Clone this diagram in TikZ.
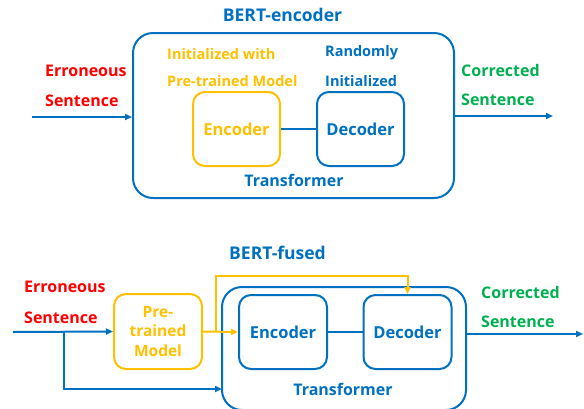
\documentclass[tikz,border=0pt]{standalone}
\usepackage{fontspec}
\setmainfont{Open Sans}
\usetikzlibrary{arrows.meta}
\definecolor{mblue}{HTML}{0070C0}
\definecolor{myellow}{HTML}{FFC000}
\definecolor{mred}{HTML}{FF0000}
\definecolor{mgreen}{HTML}{00B050}
\tikzset{
  lbl/.style={inner sep=0pt, font=\fontsize{16}{18}\selectfont\bfseries},
  note/.style={inner sep=0pt, font=\fontsize{14.5}{16}\selectfont\bfseries},
  ttl/.style={inner sep=0pt, text=mblue, font=\fontsize{17.5}{20}\selectfont\bfseries},
  outerbox/.style={draw=mblue, line width=2pt, rounded corners=20pt, inner sep=0pt},
  innerbox/.style={line width=2pt, rounded corners=12pt, inner sep=0pt, minimum width=87pt, minimum height=74pt,
    font=\fontsize{16.5}{18}\selectfont\bfseries},
  arr/.style={line width=2pt, -{Triangle[length=7pt,width=6pt]}},
  ln/.style={line width=2pt},
}
\begin{document}
\begin{tikzpicture}[x=1pt,y=-1pt]
\useasboundingbox (0,0) rectangle (584,408);
\clip (0,0) rectangle (584,408);
% ---------- top: BERT-encoder ----------
\node[ttl] (t1) at (282.5,15) {BERT-encoder};
\node[outerbox, minimum width=321pt, minimum height=165pt] (outA) at (293.5,115.5) {};
\node[note, text=myellow, anchor=west] (initw) at (167,54) {Initialized with};
\node[note, text=myellow, anchor=west] (ptm) at (167,81) {Pre-trained Model};
\node[note, text=mblue, anchor=west] (rand) at (325,53) {Randomly};
\node[note, text=mblue, anchor=west] (rinit) at (325,81) {Initialized};
\node[lbl, text=mred, anchor=west] (errA) at (45,71) {Erroneous};
\node[lbl, text=mred, anchor=west] (senA) at (45,101) {Sentence};
\node[lbl, text=mgreen, anchor=west] (corA) at (461,70) {Corrected};
\node[lbl, text=mgreen, anchor=west] (csenA) at (461,100) {Sentence};
\node[lbl, text=mblue] (trA) at (294,180) {Transformer};
\node[innerbox, draw=myellow, text=myellow] (encA) at (236.5,129) {Encoder};
\node[innerbox, draw=mblue, text=mblue] (decA) at (360.5,129) {Decoder};
\coordinate (inA) at (32,117);
\coordinate (outAend) at (553,116);
\draw[arr, mblue] (inA) -- (inA -| outA.west);
\draw[arr, mblue] (outAend -| outA.east) -- (outAend);
\draw[ln, mblue] (encA.east) -- (decA.west);
% ---------- bottom: BERT-fused ----------
\node[ttl] (t2) at (277.5,253) {BERT-fused};
\node[outerbox, minimum width=244pt, minimum height=123pt] (outB) at (344,348.5) {};
\node[lbl, text=mred, anchor=west] (errB) at (24,287) {Erroneous};
\node[lbl, text=mred, anchor=west] (senB) at (24,318) {Sentence};
\node[lbl, text=mgreen, anchor=west] (corB) at (481,292) {Corrected};
\node[lbl, text=mgreen, anchor=west] (csenB) at (481,322) {Sentence};
\node[lbl, text=mblue] (trB) at (343,389) {Transformer};
\node[innerbox, draw=myellow, text=myellow, minimum width=88pt, minimum height=75pt, align=center,
      font=\fontsize{15.5}{19.5}\selectfont\bfseries] (ptB) at (158,331.5) {Pre-\\trained\\Model};
\node[innerbox, draw=mblue, text=mblue, minimum width=88pt] (encB) at (283,332) {Encoder};
\node[innerbox, draw=mblue, text=mblue, minimum width=88pt] (decB) at (407.5,332) {Decoder};
\coordinate (inB) at (13,332);
\coordinate (brB) at (64,332);
\coordinate (lowB) at (222,389);
\coordinate (ybr) at (216,332);
\coordinate (ytop) at (216,276);
\coordinate (outBend) at (583,334);
\draw[arr, mblue] (inB) -- (ptB.west);
\draw[arr, mblue] (brB) |- (lowB);
\draw[arr, mblue] (outBend -| outB.east) -- (outBend);
\draw[ln, mblue] (encB.east) -- (decB.west);
\draw[arr, myellow] (ptB.east) -- (encB.west);
\draw[arr, myellow] (ybr) -- (ytop) -| (decB.north);
\end{tikzpicture}
\end{document}
